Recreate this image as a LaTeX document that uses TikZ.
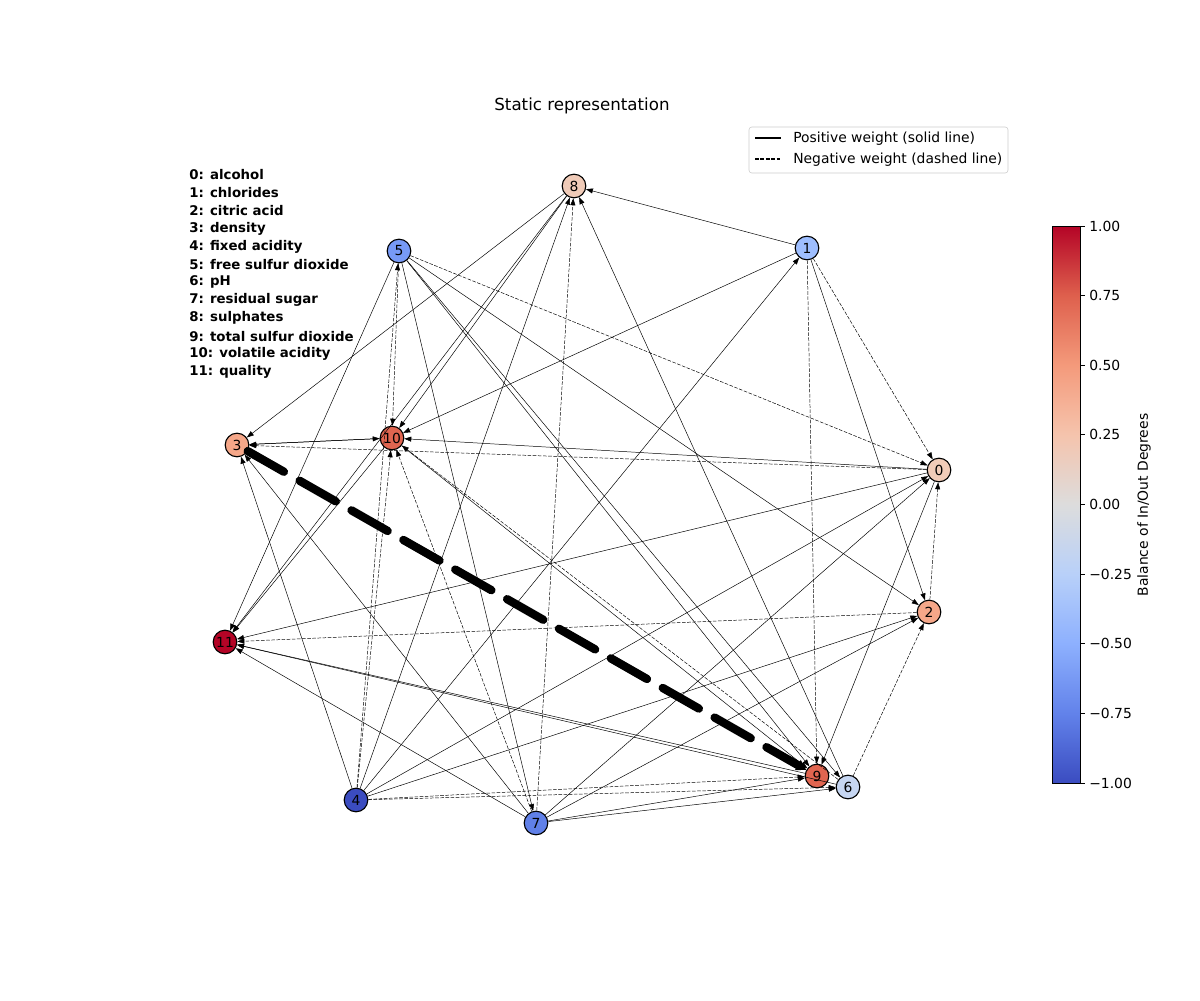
\documentclass[tikz,border=0pt]{standalone}
\usepackage{fontspec}
\setmainfont{DejaVu Sans}
\usetikzlibrary{arrows.meta}
\definecolor{c0}{RGB}{241,204,184}
\definecolor{c1}{RGB}{158,190,255}
\definecolor{c2}{RGB}{245,167,137}
\definecolor{c3}{RGB}{245,167,137}
\definecolor{c4}{RGB}{59,76,192}
\definecolor{c5}{RGB}{119,154,246}
\definecolor{c6}{RGB}{198,214,242}
\definecolor{c7}{RGB}{96,128,232}
\definecolor{c8}{RGB}{240,203,184}
\definecolor{c9}{RGB}{224,101,80}
\definecolor{c10}{RGB}{224,101,80}
\definecolor{c11}{RGB}{180,4,38}
\pgfdeclareverticalshading{coolwarm}{100bp}{
  rgb(0bp)=(0.230,0.299,0.754); rgb(25bp)=(0.230,0.299,0.754);
  rgb(31.25bp)=(0.384,0.510,0.918); rgb(37.5bp)=(0.553,0.690,0.996);
  rgb(43.75bp)=(0.722,0.816,0.976); rgb(50bp)=(0.865,0.865,0.865);
  rgb(56.25bp)=(0.961,0.768,0.678); rgb(62.5bp)=(0.957,0.604,0.483);
  rgb(68.75bp)=(0.871,0.377,0.302); rgb(75bp)=(0.706,0.016,0.150);
  rgb(100bp)=(0.706,0.016,0.150)}
\tikzset{
  vtx/.style={circle,draw=black,line width=0.8pt,minimum size=17pt,inner sep=0pt,font=\fontsize{10}{12}\selectfont},
  posedge/.style={-{Triangle[length=5pt,width=3.6pt]},line width=0.35pt},
  negedge/.style={posedge,dash pattern=on 2.6pt off 1.1pt},
  heavy/.style={-{Triangle[length=7pt,width=8pt]},line width=6pt,line cap=round,dash pattern=on 30pt off 13pt},
  txt/.style={font=\fontsize{10}{12}\selectfont,inner sep=0pt},
}
\begin{document}
\begin{tikzpicture}[x=0.72pt,y=-0.72pt]
\useasboundingbox (0,0) rectangle (1200,1000);
\node[font=\fontsize{12}{14}\selectfont] (title) at (582,106) {Static representation};
% feature key
\foreach \k/\feat in {0/alcohol,1/chlorides,2/citric acid,3/density,4/fixed acidity,
  5/free sulfur dioxide,6/pH,7/residual sugar,8/sulphates,9/total sulfur dioxide,
  10/volatile acidity,11/quality} {
  \node[txt,anchor=west,font=\fontsize{9.6}{12}\selectfont\bfseries] (key\k) at (189,{175+17.9*\k}) {\k: \feat};
}
% vertices
\foreach \n/\px/\py in {0/939/470,1/807/248,2/929/612,3/237/445,4/356/800,5/399/251,
  6/848/787,7/536/823,8/574/186,9/817/776,10/392/438,11/225/642} {
  \node[vtx,fill=c\n] (n\n) at (\px,\py) {\n};
}
% positive weights
\foreach \a/\b in {1/8,1/2,1/10,4/1,4/3,4/8,4/0,4/2,5/11,5/7,5/2,5/9,5/6,8/3,8/10,8/11,
  6/8,7/3,7/11,7/0,7/2,7/9,7/6,3/10,10/3,0/10,0/11,10/11,10/9,9/11,6/11,0/9}
  \draw[posedge] (n\a) -- (n\b);
% negative weights
\foreach \a/\b in {1/0,1/9,4/10,4/5,4/9,4/6,5/0,5/10,7/8,7/10,0/3,2/11,2/0,6/2,6/10}
  \draw[negedge] (n\a) -- (n\b);
\draw[heavy] (n3) -- (n9);
% legend
\draw[draw=black!20,fill=white,rounded corners=2pt] (749,127) rectangle (1008,173);
\coordinate (lp1) at (755,138); \coordinate (lp2) at (781,138);
\coordinate (ln1) at (755,159); \coordinate (ln2) at (781,159);
\draw[line width=1pt] (lp1) -- (lp2);
\draw[line width=1pt,dash pattern=on 2.7pt off 1.2pt] (ln1) -- (ln2);
\node[txt,anchor=west] (legpos) at (793,139) {Positive weight (solid line)};
\node[txt,anchor=west] (legneg) at (793,160) {Negative weight (dashed line)};
% colour bar
\shade[shading=coolwarm] (1052,226) rectangle (1080,783);
\draw[line width=0.6pt] (1052,226) rectangle (1080,783);
\foreach \v/\lab in {0/1.00,1/0.75,2/0.50,3/0.25,4/0.00,5/−0.25,6/−0.50,7/−0.75,8/−1.00} {
  \draw[line width=0.6pt] (1080,{226+69.625*\v}) -- (1085,{226+69.625*\v});
  \node[txt,anchor=west] (tick\v) at (1089,{226+69.625*\v}) {\lab};
}
\node[txt,rotate=90] (cblab) at (1144,505) {Balance of In/Out Degrees};
\end{tikzpicture}
\end{document}
